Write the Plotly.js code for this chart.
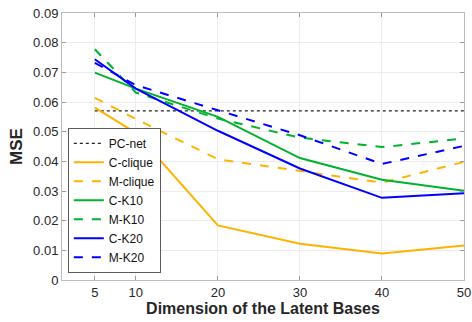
<!DOCTYPE html>
<html><head><meta charset="utf-8">
<script src="https://cdn.plot.ly/plotly-3.0.1.min.js"></script>
<style>html,body{margin:0;padding:0;background:#fff}</style>
</head><body>
<div id="chart" style="width:472px;height:322px"></div>
<script>
const dims = [5, 10, 20, 30, 40, 50];
const pcNet = [0.057, 0.057, 0.057, 0.057, 0.057, 0.057];
const cClique = [0.0581, 0.0496, 0.0184, 0.0122, 0.0089, 0.0116];
const mClique = [0.0614, 0.0543, 0.0407, 0.0368, 0.0328, 0.0398];
const cK10 = [0.0699, 0.0645, 0.0550, 0.0411, 0.0338, 0.0301];
const mK10 = [0.0778, 0.0632, 0.0544, 0.0480, 0.0448, 0.0477];
const cK20 = [0.0744, 0.0645, 0.0503, 0.0376, 0.0277, 0.0292];
const mK20 = [0.0732, 0.0657, 0.0572, 0.0488, 0.0391, 0.0452];
const xTicks = [5, 10, 20, 30, 40, 50];
const yTicks = [0, 0.01, 0.02, 0.03, 0.04, 0.05, 0.06, 0.07, 0.08, 0.09];
const yTickText = ['0', '0.01', '0.02', '0.03', '0.04', '0.05', '0.06', '0.07', '0.08', '0.09'];

const orange = '#FFB200', green = '#00B22D', blue = '#0000FF';
function tr(name, y, color, dash, width) {
  return {x: dims, y: y, name: name, type: 'scatter', mode: 'lines',
          line: {color: color, dash: dash, width: width}};
}
const data = [
  tr('PC-net', pcNet, '#222222', 'dot', 1.3),
  tr('C-clique', cClique, orange, 'solid', 2),
  tr('M-clique', mClique, orange, 'dash', 2),
  tr('C-K10', cK10, green, 'solid', 2),
  tr('M-K10', mK10, green, 'dash', 2),
  tr('C-K20', cK20, blue, 'solid', 2),
  tr('M-K20', mK20, blue, 'dash', 2)
];
const FONT = 'Liberation Sans, Arial, sans-serif';
const axCommon = {
  showline: true, linecolor: '#bcbcbc', linewidth: 1, mirror: 'ticks',
  ticks: 'inside', ticklen: 4, tickcolor: '#9a9a9a',
  showgrid: true, gridcolor: '#ececec', zeroline: false,
  tickfont: {family: FONT, size: 13, color: '#262626'}
};
const layout = {
  width: 472, height: 322,
  margin: {l: 62, r: 8, t: 13, b: 42},
  paper_bgcolor: '#fff', plot_bgcolor: '#fff',
  showlegend: true,
  legend: {x: 0.015, y: 0.026, xanchor: 'left', yanchor: 'bottom',
           bgcolor: '#fff', bordercolor: '#333', borderwidth: 0.8,
           font: {family: FONT, size: 12, color: '#111'},
           tracegroupgap: 0, itemwidth: 30},
  xaxis: Object.assign({}, axCommon, {
    range: [1, 50], tickmode: 'array', tickvals: xTicks,
    title: {text: '<b>Dimension of the Latent Bases</b>', standoff: 4,
            font: {family: FONT, size: 16, color: '#262626'}}
  }),
  yaxis: Object.assign({}, axCommon, {
    range: [0, 0.09], tickmode: 'array', tickvals: yTicks, ticktext: yTickText,
    title: {text: '<b>MSE</b>', standoff: 6,
            font: {family: FONT, size: 17, color: '#262626'}}
  })
};
Plotly.newPlot('chart', data, layout, {displayModeBar: false, staticPlot: true});
</script>
</body></html>
